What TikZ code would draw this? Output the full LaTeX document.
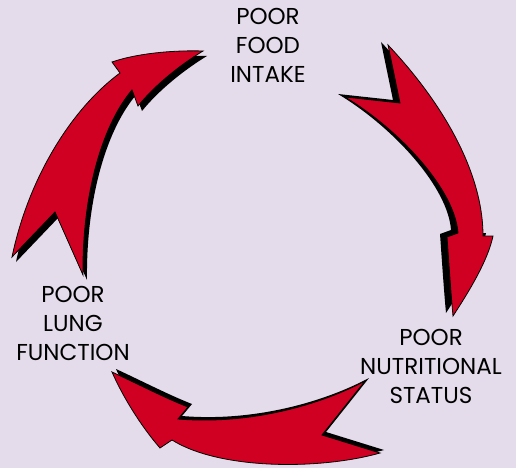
\documentclass[tikz,border=0pt]{standalone}
\usepackage{fontspec}
\setmainfont{Poppins}
\definecolor{bglav}{RGB}{228,220,234}
\definecolor{arrowred}{RGB}{208,0,35}
\begin{document}
\begin{tikzpicture}[x=1pt,y=-1pt,
  arrowbody/.style={fill=arrowred,draw=black,line width=0.8pt,line join=miter},
  arrowshadow/.style={fill=black},
  cyclelabel/.style={align=center,font=\fontsize{23}{29}\selectfont,inner sep=0pt,text=black}]
\fill[bglav] (0,0) rectangle (516,468);
\useasboundingbox (0,0) rectangle (516,468);
\def\arrowone{(12,257) -- (55,212) -- (83,275) .. controls (82,200) and (100,128) .. (132,90) -- (138,106) .. controls (155,85) and (180,65) .. (203,51) .. controls (170,50) and (135,54) .. (112,62) -- (120,73) .. controls (70,110) and (28,180) .. (12,257) -- cycle}
\def\arrowtwo{(388,45) -- (400,103) -- (345,97) .. controls (400,130) and (455,190) .. (458,233) -- (447,237) .. controls (449,265) and (451,295) .. (453,316) .. controls (470,290) and (488,260) .. (493,236) -- (483,236) .. controls (483,170) and (440,100) .. (388,45) -- cycle}
\def\arrowthree{(365,381) -- (322,435) -- (380,453) .. controls (320,470) and (220,470) .. (172,440) -- (160,448) .. controls (140,425) and (122,395) .. (112,372) .. controls (140,385) and (165,398) .. (188,407) -- (178,419) .. controls (250,425) and (320,405) .. (365,381) -- cycle}
\fill[arrowshadow,shift={(4,5)}] \arrowone;
\fill[arrowshadow,shift={(-7,-3)}] \arrowtwo;
\fill[arrowshadow,shift={(4,-3)}] \arrowthree;
\path[arrowbody] \arrowone;
\path[arrowbody] \arrowtwo;
\path[arrowbody] \arrowthree;
\node[cyclelabel] (food) at (268,45) {POOR\\FOOD\\INTAKE};
\node[cyclelabel] (lung) at (73,323.5) {POOR\\LUNG\\FUNCTION};
\node[cyclelabel] (nutr) at (431,366) {POOR\\NUTRITIONAL\\STATUS};
\end{tikzpicture}
\end{document}
